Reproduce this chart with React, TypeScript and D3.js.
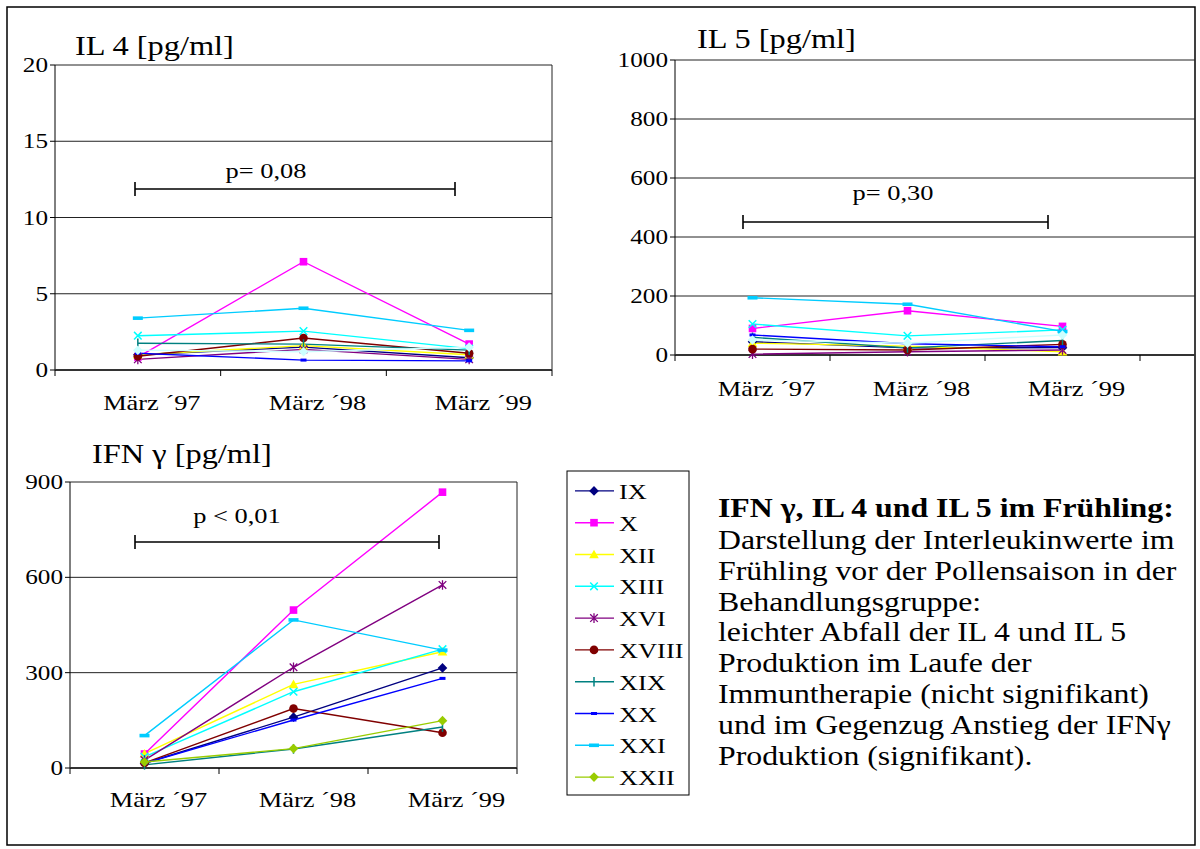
import React from "react";
import * as d3 from "d3";

const categories = ["März ´97", "März ´98", "März ´99"];
const patients = ["IX", "X", "XII", "XIII", "XVI", "XVIII", "XIX", "XX", "XXI", "XXII"];
const markers = ["diamond", "square", "triangle", "x", "star", "circle", "plus", "dash", "wdash", "diamond"];
const colors = ["#000080", "#FF00FF", "#FFFF00", "#00FFFF", "#800080", "#800000", "#008080", "#0000FF", "#00CCFF", "#99CC00"];
// in the IL charts the last series kept Excel's default light turquoise
const colorsIL = ["#000080", "#FF00FF", "#FFFF00", "#00FFFF", "#800080", "#800000", "#008080", "#0000FF", "#00CCFF", "#CCFFFF"];

const il4Values = [
  [1.0, 1.5, 0.8],
  [0.85, 7.1, 1.7],
  [1.0, 1.6, 1.0],
  [2.25, 2.55, 1.4],
  [0.7, 1.35, 0.7],
  [0.9, 2.1, 1.1],
  [1.75, 1.7, 1.3],
  [1.1, 0.65, 0.6],
  [3.4, 4.05, 2.6],
  [1.3, 1.2, 1.5],
];
const il5Values = [
  [45, 24, 25],
  [90, 150, 97],
  [40, 30, 11],
  [105, 65, 85],
  [3, 11, 17],
  [20, 17, 36],
  [60, 24, 49],
  [68, 38, 28],
  [194, 172, 80],
  [51, 40, 68],
];
const ifnValues = [
  [15, 160, 315],
  [44, 497, 868],
  [45, 263, 366],
  [35, 240, 374],
  [25, 317, 576],
  [16, 187, 111],
  [10, 60, 129],
  [15, 151, 282],
  [102, 466, 371],
  [19, 61, 149],
];
const il4Ticks = [0, 5, 10, 15, 20];
const il5Ticks = [0, 200, 400, 600, 800, 1000];
const ifnTicks = [0, 300, 600, 900];

const textLines = [
  "Darstellung der Interleukinwerte im",
  "Frühling vor der Pollensaison in der",
  "Behandlungsgruppe:",
  "leichter Abfall der IL 4 und IL 5",
  "Produktion im Laufe der",
  "Immuntherapie (nicht signifikant)",
  "und im Gegenzug Anstieg der IFNγ",
  "Produktion (signifikant).",
];

const FONT = "Liberation Serif, Times New Roman, serif";
// the scanned figure is a bit wider than tall, so the text is stretched sideways
const SX = 1.2;

function Marker({ type, x, y, color }) {
  const s = 3.8;
  switch (type) {
    case "diamond":
      return <path d={`M${x},${y - s - 1}L${x + s + 1},${y}L${x},${y + s + 1}L${x - s - 1},${y}Z`} fill={color} />;
    case "square":
      return <rect x={x - s} y={y - s} width={2 * s} height={2 * s} fill={color} />;
    case "triangle":
      return <path d={`M${x},${y - s - 1}L${x + s + 1},${y + s}L${x - s - 1},${y + s}Z`} fill={color} />;
    case "x":
      return <path d={`M${x - s},${y - s}L${x + s},${y + s}M${x + s},${y - s}L${x - s},${y + s}`} stroke={color} strokeWidth={1.5} />;
    case "star":
      return <path d={`M${x - s},${y - s}L${x + s},${y + s}M${x + s},${y - s}L${x - s},${y + s}M${x},${y - s - 1}L${x},${y + s + 1}`} stroke={color} strokeWidth={1.3} />;
    case "circle":
      return <circle cx={x} cy={y} r={s + 0.5} fill={color} />;
    case "plus":
      return <path d={`M${x},${y - s - 1}L${x},${y + s + 1}`} stroke={color} strokeWidth={1.5} />;
    case "dash":
      return <rect x={x - 3} y={y - 1.5} width={6} height={3} fill={color} />;
    case "wdash":
      return <rect x={x - 5} y={y - 1.8} width={10} height={3.6} fill={color} />;
    default:
      return null;
  }
}

function T({ x, y, children, ...rest }) {
  return (
    <text transform={`translate(${x},${y}) scale(${SX},1)`} fontFamily={FONT} {...rest}>
      {children}
    </text>
  );
}

function LineChart({ values, palette, ticks, x0, x1, gridRight, y0, y1, title, titleX, titleY, pText, pX, pY, bracketY, bracketX0, bracketX1, labelY }) {
  const x = d3.scaleBand().domain(categories).range([x0, x1]);
  const y = d3.scaleLinear().domain([ticks[0], ticks[ticks.length - 1]]).range([y0, y1]);
  const line = d3.line<number>()
    .x((_, i) => x(categories[i]) + x.bandwidth() / 2)
    .y(d => y(d));
  return (
    <g>
      <T x={titleX} y={titleY} fontSize={27}>{title}</T>
      {ticks.slice(1).map(t => (
        <line key={t} x1={x0} x2={gridRight} y1={y(t)} y2={y(t)} stroke="#222" strokeWidth={1} />
      ))}
      {gridRight === x1 && <line x1={x1} x2={x1} y1={y1} y2={y0} stroke="#222" strokeWidth={1} />}
      <line x1={x0} x2={x0} y1={y1} y2={y0} stroke="#000" strokeWidth={1} />
      <line x1={x0} x2={gridRight} y1={y0} y2={y0} stroke="#333" strokeWidth={2} />
      {ticks.map(t => (
        <g key={t}>
          <line x1={x0 - 5} x2={x0} y1={y(t)} y2={y(t)} stroke="#000" />
          <T x={x0 - 7} y={y(t) + 7} textAnchor="end" fontSize={21}>{t}</T>
        </g>
      ))}
      {[x0, x0 + x.bandwidth(), x0 + 2 * x.bandwidth(), x1].map((tx, i) => (
        <line key={i} x1={tx} x2={tx} y1={y0} y2={y0 + 6} stroke="#000" />
      ))}
      {categories.map(c => (
        <T key={c} x={x(c) + x.bandwidth() / 2 + 14} y={labelY} textAnchor="middle" fontSize={22}>{c}</T>
      ))}
      {values.map((v, i) => (
        <path key={i} d={line(v)} fill="none" stroke={palette[i]} strokeWidth={1.4} />
      ))}
      {values.map((v, i) =>
        v.map((d, j) => (
          <Marker key={i + "-" + j} type={markers[i]} x={x(categories[j]) + x.bandwidth() / 2} y={y(d)} color={palette[i]} />
        ))
      )}
      <T x={pX} y={pY} textAnchor="middle" fontSize={22}>{pText}</T>
      <path d={`M${bracketX0},${bracketY}H${bracketX1}M${bracketX0},${bracketY - 7}V${bracketY + 7}M${bracketX1},${bracketY - 7}V${bracketY + 7}`} stroke="#000" strokeWidth={1.6} fill="none" />
    </g>
  );
}

export default function App() {
  const legendY = d3.scaleBand().domain(patients).range([475, 793]);
  return (
    <svg width={1200} height={849} style={{ position: "absolute", left: 0, top: 0, background: "#fff", fontFamily: FONT }}>
      <rect x={7} y={7} width={1188} height={838} fill="#fff" stroke="#000" strokeWidth={1.5} />
      <LineChart values={il4Values} palette={colorsIL} ticks={il4Ticks} x0={55} x1={552} gridRight={552} y0={370} y1={65}
        title="IL 4 [pg/ml]" titleX={75} titleY={55} pText="p= 0,08" pX={266} pY={178} bracketY={189} bracketX0={135} bracketX1={455} labelY={410} />
      <LineChart values={il5Values} palette={colorsIL} ticks={il5Ticks} x0={675} x1={1140} gridRight={1195} y0={355} y1={60}
        title="IL 5 [pg/ml]" titleX={697} titleY={48} pText="p= 0,30" pX={893} pY={200} bracketY={222} bracketX0={743} bracketX1={1048} labelY={396} />
      <LineChart values={ifnValues} palette={colors} ticks={ifnTicks} x0={70} x1={517} gridRight={517} y0={768} y1={482}
        title="IFN γ [pg/ml]" titleX={92} titleY={463} pText="p < 0,01" pX={237} pY={523} bracketY={542} bracketX0={135} bracketX1={439} labelY={807} />
      <g>
        <rect x={567} y={471} width={122} height={324} fill="#fff" stroke="#000" strokeWidth={1} />
        {patients.map((p, i) => {
          const cy = legendY(p) + legendY.bandwidth() / 2;
          return (
            <g key={p}>
              <line x1={575} x2={614} y1={cy} y2={cy} stroke={colors[i]} strokeWidth={1.4} />
              <Marker type={markers[i]} x={594} y={cy} color={colors[i]} />
              <T x={619} y={cy + 8} fontSize={22}>{p}</T>
            </g>
          );
        })}
      </g>
      <g>
        <T x={718} y={517} fontSize={26.5} fontWeight="bold">IFN γ, IL 4 und IL 5 im Frühling:</T>
        {textLines.map((t, i) => (
          <T key={i} x={718} y={549 + i * 30.8} fontSize={26.5}>{t}</T>
        ))}
      </g>
    </svg>
  );
}
